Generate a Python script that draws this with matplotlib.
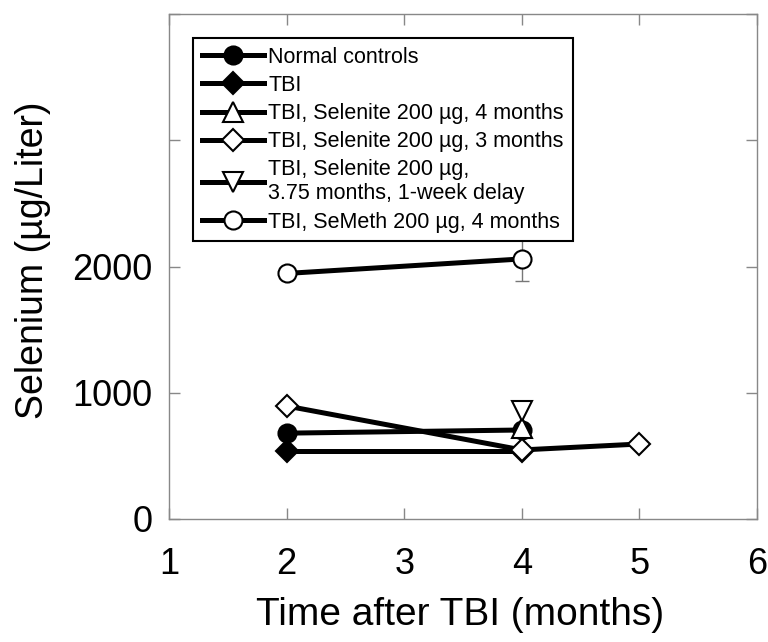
import numpy as np
import matplotlib.pyplot as plt

plt.rcParams['font.family'] = ['Liberation Sans', 'DejaVu Sans']

# Data (months after TBI, selenium in ug/L)
x_normal = [2, 4]
y_normal = [680, 705]
x_tbi = [2, 4]
y_tbi = [540, 540]
x_sel4 = [4]
y_sel4 = [720]
x_sel3 = [2, 4, 5]
y_sel3 = [895, 547, 594]
x_delay = [4]
y_delay = [855]
x_semeth = [2, 4]
y_semeth = [1945, 2060]
err_semeth = [0, 175]

labels = ['Normal controls',
          'TBI',
          'TBI, Selenite 200 µg, 4 months',
          'TBI, Selenite 200 µg, 3 months',
          'TBI, Selenite 200 µg,\n3.75 months, 1-week delay',
          'TBI, SeMeth 200 µg, 4 months']

fig = plt.figure(figsize=(7.68, 6.42), dpi=100)
ax = fig.add_axes([169/768, 1 - 519/642, 588/768, 505/642])

lw = 3.6
ms = 13
mew = 1.5
common = dict(color='black', lw=lw, mec='black', mew=mew, ms=ms)

ax.errorbar(x_semeth, y_semeth, yerr=err_semeth, fmt='none', ecolor='#777777',
            elinewidth=1, capsize=5, zorder=1)
ax.plot(x_normal, y_normal, marker='o', mfc='black', label=labels[0], **common)
ax.plot(x_tbi, y_tbi, marker='D', mfc='black', label=labels[1], **dict(common, ms=11))
ax.plot(x_sel4, y_sel4, marker='^', mfc='white', label=labels[2], **dict(common, ms=15))
ax.plot(x_sel3, y_sel3, marker='D', mfc='white', label=labels[3], **dict(common, ms=11))
ax.plot(x_delay, y_delay, marker='v', mfc='white', label=labels[4], **dict(common, ms=15))
ax.plot(x_semeth, y_semeth, marker='o', mfc='white', label=labels[5], **common)

ax.set_xlim(1, 6)
ax.set_ylim(0, 4000)
ax.set_xticks([1, 2, 3, 4, 5, 6])
ax.set_yticks([0, 1000, 2000, 3000, 4000])
ax.set_yticklabels(['0', '1000', '2000', '', ''])

for s in ax.spines.values():
    s.set_color('#888888')
    s.set_linewidth(1)
ax.tick_params(direction='in', length=8, width=1, color='#888888',
               top=True, right=True, labelsize=26)
ax.tick_params(axis='x', pad=20)
ax.tick_params(axis='y', pad=12)

ax.set_xlabel('Time after TBI (months)', fontsize=28)
ax.set_ylabel('Selenium (µg/Liter)', fontsize=27)
ax.xaxis.set_label_coords(0.495, -0.155)
ax.yaxis.set_label_coords(-0.2, 0.513)

leg = ax.legend(loc='upper left', bbox_to_anchor=(0.041, 0.952), fontsize=15.5,
                frameon=True, fancybox=False, edgecolor='black', framealpha=1,
                handlelength=2.9, handletextpad=0.2, labelspacing=0.33,
                borderpad=0.4, borderaxespad=0)
leg.get_frame().set_linewidth(1.5)
leg.set_zorder(5)

fig.savefig('out.png', dpi=100)
